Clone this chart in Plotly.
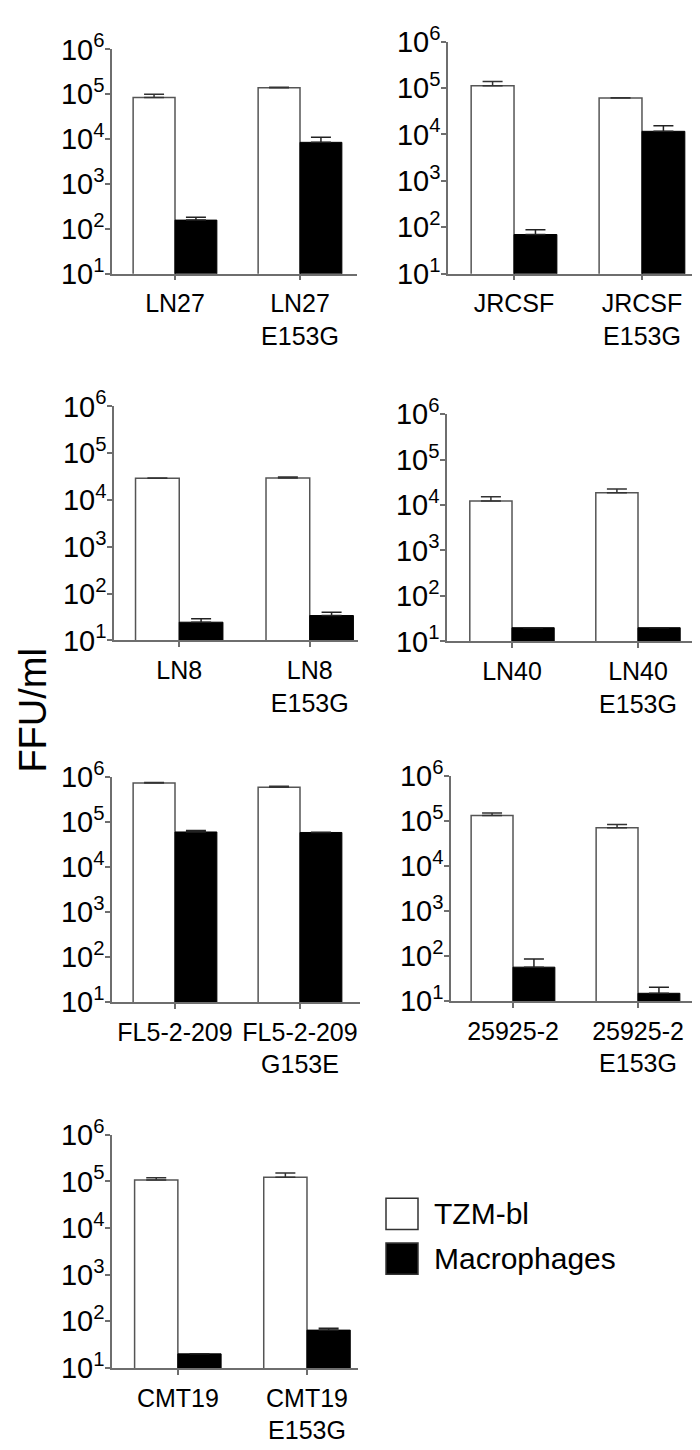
import plotly.graph_objects as go

# strains (wild type) and their mutant partner label
strains = ["LN27", "JRCSF", "LN8", "LN40", "FL5-2-209", "25925-2", "CMT19"]
mutations = ["E153G", "E153G", "E153G", "E153G", "G153E", "E153G", "E153G"]

# FFU/ml
tzm_wt = [85000, 112000, 29000, 12300, 730000, 132000, 107000]
tzm_wt_err = [15000, 26000, 500, 3000, 20000, 18000, 13000]
tzm_mut = [140000, 61000, 29500, 18600, 590000, 71000, 123000]
tzm_mut_err = [3000, 1000, 1500, 4000, 30000, 13000, 29000]
mac_wt = [157, 70, 24.5, 20, 60000, 57, 20]
mac_wt_err = [25, 19, 4.7, 0, 5000, 29, 0]
mac_mut = [8500, 11700, 34, 20, 58500, 15, 64.6]
mac_mut_err = [2500, 3800, 6, 0, 1000, 5.5, 6.5]

tick_vals = [10, 100, 1000, 10000, 100000, 1000000]
tick_text = ["10<sup>%d</sup>" % k for k in range(1, 7)]

W, H = 700, 1450
FONT = "Liberation Sans, Arial, sans-serif"

# panel boxes in pixels: left, right, top (10^6), bottom (10^1), x range
panels = [
    (104, 349, 22, 252, [-0.504, 1.456]),
    (440, 700, 14, 252, [-0.516, 1.516]),
    (106, 350, 388, 628, [-0.5, 1.37]),
    (439, 693, 396, 629, [-0.516, 1.5]),
    (104, 352, 768, 999, [-0.504, 1.48]),
    (443, 688, 767, 998, [-0.496, 1.464]),
    (104, 350, 1135, 1374, [-0.51, 1.395]),
]

fig = go.Figure()
layout = {}

for i, (x0, x1, yt, yb, xr) in enumerate(panels):
    n = "" if i == 0 else str(i + 1)
    cats = [strains[i], strains[i] + "<br>" + mutations[i]]

    fig.add_trace(go.Bar(
        x=cats, y=[tzm_wt[i], tzm_mut[i]],
        xaxis="x" + n, yaxis="y" + n,
        name="TZM-bl",
        marker=dict(color="white", line=dict(color="#555555", width=1.5)),
        error_y=dict(type="data", symmetric=False,
                     array=[tzm_wt_err[i], tzm_mut_err[i]], arrayminus=[0, 0],
                     color="#333333", thickness=1.5, width=10),
        showlegend=False,
    ))
    fig.add_trace(go.Bar(
        x=cats, y=[mac_wt[i], mac_mut[i]],
        xaxis="x" + n, yaxis="y" + n,
        name="Macrophages",
        marker=dict(color="black", line=dict(color="black", width=1)),
        error_y=dict(type="data", symmetric=False,
                     array=[mac_wt_err[i], mac_mut_err[i]], arrayminus=[0, 0],
                     color="#222222", thickness=1.5, width=10),
        showlegend=False,
    ))

    layout["xaxis" + n] = dict(
        domain=[x0 / W, x1 / W], anchor="y" + n, range=xr,
        showline=True, linecolor="#6e6e6e", linewidth=1.5,
        ticks="outside", ticklen=5, tickcolor="#6e6e6e", tickwidth=1.5,
        showgrid=False, zeroline=False, fixedrange=True,
        tickfont=dict(family=FONT, size=25, color="black"),
        ticklabelstandoff=2,
    )
    layout["yaxis" + n] = dict(
        domain=[1 - yb / H, 1 - yt / H], anchor="x" + n,
        type="log", range=[1, 6],
        tickvals=tick_vals, ticktext=tick_text,
        showline=True, linecolor="#6e6e6e", linewidth=1.5,
        ticks="outside", ticklen=5, tickcolor="#6e6e6e", tickwidth=1.5,
        showgrid=False, zeroline=False, fixedrange=True,
        tickfont=dict(family=FONT, size=29, color="black"),
        ticklabelstandoff=-5,
    )

fig.update_layout(**layout)

# shared y title
fig.add_annotation(
    text="FFU/ml", textangle=-90, showarrow=False,
    xref="paper", yref="paper", x=25 / W, y=1 - 700 / H,
    xanchor="center", yanchor="middle",
    font=dict(family=FONT, size=38, color="black"),
)

# legend drawn as boxes + labels
legend_items = [("TZM-bl", "white", 1216), ("Macrophages", "black", 1262)]
for label, color, yc in legend_items:
    fig.add_shape(
        type="rect", xref="paper", yref="paper",
        x0=378 / W, x1=410 / W, y0=1 - (yc + 16) / H, y1=1 - (yc - 16) / H,
        fillcolor=color, line=dict(color="#333333", width=1.5),
    )
    fig.add_annotation(
        text=label, showarrow=False, xref="paper", yref="paper",
        x=424 / W, y=1 - yc / H, xanchor="left", yanchor="middle",
        font=dict(family=FONT, size=30, color="black"),
    )

fig.update_layout(
    width=W, height=H,
    margin=dict(l=0, r=0, t=0, b=0),
    barmode="group", bargap=0.33, bargroupgap=0,
    plot_bgcolor="white", paper_bgcolor="white",
    font=dict(family=FONT, color="black"),
)

fig.write_html("out.html")
